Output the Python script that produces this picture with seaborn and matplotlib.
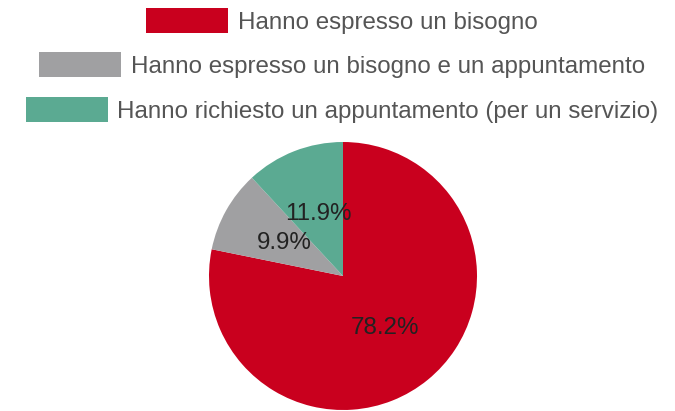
import matplotlib
matplotlib.use("Agg")
import matplotlib.pyplot as plt
import seaborn as sns

# data
categories = [
    "Hanno espresso un bisogno",
    "Hanno espresso un bisogno e un appuntamento",
    "Hanno richiesto un appuntamento (per un servizio)",
]
shares = [78.2, 9.9, 11.9]
colors = ["#C9001E", "#A0A0A2", "#5BAA92"]

sns.set_theme(style="white")
plt.rcParams["font.family"] = ["Liberation Sans", "DejaVu Sans"]

fig = plt.figure(figsize=(6.75, 4.11), dpi=100)
palette = sns.color_palette(colors)

# pie centred at (343, 276) px, radius ~134 px
cx, cy, r = 343, 276, 134
ax = fig.add_axes([(cx - r) / 675, (411 - cy - r) / 411, 2 * r / 675, 2 * r / 411])
wedges, texts, autotexts = ax.pie(
    shares,
    colors=palette,
    startangle=90,
    counterclock=False,
    autopct="%.1f%%",
    pctdistance=0.5,
    wedgeprops=dict(linewidth=0),
    textprops=dict(fontsize=17.4, color="#222222"),
)
ax.set_xlim(-1, 1)
ax.set_ylim(-1, 1)
ax.set_aspect("auto")

# one legend per row so each row is centred on its own
row_y = [21, 65, 110]
for w, label, y in zip(wedges, categories, row_y):
    fig.legend(
        [w], [label],
        loc="center",
        bbox_to_anchor=(342 / 675, 1 - y / 411),
        frameon=False,
        fontsize=17.4,
        labelcolor="#555555",
        handlelength=3.4,
        handleheight=1.2,
        handletextpad=0.4,
        borderpad=0,
        borderaxespad=0,
    )

fig.savefig("out.png", dpi=100)
